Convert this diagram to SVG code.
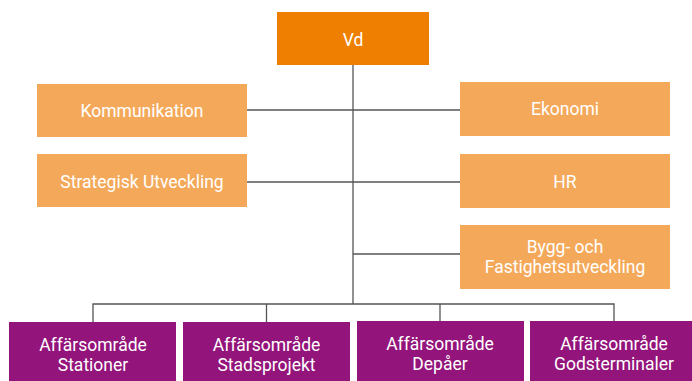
<svg xmlns="http://www.w3.org/2000/svg" width="692" height="381" viewBox="0 0 692 381">
<style>
.vd{fill:#EE7F00}
.st{fill:#F4A95A}
.ba{fill:#93147A}
.t{font-family:Roboto,"Liberation Sans",sans-serif;font-size:17.5px;fill:#ffffff;text-anchor:middle}
.c{stroke:#555555;stroke-width:1.3;fill:none}
</style>
<rect width="692" height="381" fill="#ffffff"/>
<g id="connectors">
<path class="c" d="M353 65V304"/>
<path class="c" d="M247 110H460"/>
<path class="c" d="M247 182H460"/>
<path class="c" d="M353 254H460"/>
<path class="c" d="M93 322V304H614V322"/>
<path class="c" d="M266.5 304V322"/>
<path class="c" d="M440 304V322"/>
</g>
<g id="vd"><rect class="vd" x="277" y="12" width="152" height="53"/><text class="t" x="353" y="46">Vd</text></g>
<g id="kommunikation"><rect class="st" x="37" y="84" width="210" height="53"/><text class="t" x="142" y="117">Kommunikation</text></g>
<g id="strategisk"><rect class="st" x="37" y="154" width="210" height="53"/><text class="t" x="142" y="188">Strategisk Utveckling</text></g>
<g id="ekonomi"><rect class="st" x="460" y="82" width="210" height="54"/><text class="t" x="565" y="115">Ekonomi</text></g>
<g id="hr"><rect class="st" x="460" y="154" width="210" height="54"/><text class="t" x="565" y="188">HR</text></g>
<g id="bygg"><rect class="st" x="460" y="225" width="210" height="64"/><text class="t" x="565" y="253">Bygg- och</text><text class="t" x="565" y="273">Fastighetsutveckling</text></g>
<g id="stationer"><rect class="ba" x="9" y="322" width="167" height="59"/><text class="t" x="93" y="351">Affärsområde</text><text class="t" x="93" y="371">Stationer</text></g>
<g id="stadsprojekt"><rect class="ba" x="183" y="322" width="167" height="59"/><text class="t" x="266.5" y="351">Affärsområde</text><text class="t" x="266.5" y="371">Stadsprojekt</text></g>
<g id="depaer"><rect class="ba" x="357" y="321" width="167" height="60"/><text class="t" x="440" y="350">Affärsområde</text><text class="t" x="440" y="370">Depåer</text></g>
<g id="godsterminaler"><rect class="ba" x="530" y="321" width="162" height="60"/><text class="t" x="614" y="350">Affärsområde</text><text class="t" x="614" y="370">Godsterminaler</text></g>
</svg>
